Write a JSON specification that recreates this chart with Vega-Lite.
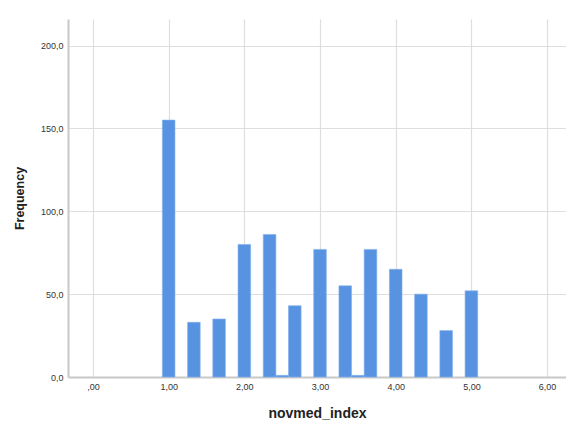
{
  "$schema": "https://vega.github.io/schema/vega-lite/v6.json",
  "width": 498,
  "height": 358,
  "autosize": {"type": "none"},
  "padding": {"left": 68, "top": 19, "right": 0, "bottom": 46},
  "background": "white",
  "config": {
    "view": {"stroke": null},
    "font": "Liberation Sans"
  },
  "data": {
    "values": [
      {"bin_start": 0.9167, "bin_end": 1.0833, "count": 155},
      {"bin_start": 1.25, "bin_end": 1.4167, "count": 33},
      {"bin_start": 1.5833, "bin_end": 1.75, "count": 35},
      {"bin_start": 1.9167, "bin_end": 2.0833, "count": 80},
      {"bin_start": 2.25, "bin_end": 2.4167, "count": 86},
      {"bin_start": 2.4167, "bin_end": 2.5833, "count": 1},
      {"bin_start": 2.5833, "bin_end": 2.75, "count": 43},
      {"bin_start": 2.9167, "bin_end": 3.0833, "count": 77},
      {"bin_start": 3.25, "bin_end": 3.4167, "count": 55},
      {"bin_start": 3.4167, "bin_end": 3.5833, "count": 1},
      {"bin_start": 3.5833, "bin_end": 3.75, "count": 77},
      {"bin_start": 3.9167, "bin_end": 4.0833, "count": 65},
      {"bin_start": 4.25, "bin_end": 4.4167, "count": 50},
      {"bin_start": 4.5833, "bin_end": 4.75, "count": 28},
      {"bin_start": 4.9167, "bin_end": 5.0833, "count": 52}
    ]
  },
  "mark": {"type": "bar", "color": "#5893e2", "stroke": "#7fb0ee", "strokeWidth": 0.6},
  "encoding": {
    "x": {
      "field": "bin_start",
      "type": "quantitative",
      "scale": {"domain": [-0.33, 6.25], "nice": false, "zero": false},
      "axis": {
        "title": "novmed_index",
        "values": [0, 1, 2, 3, 4, 5, 6],
        "labelExpr": "datum.value == 0 ? ',00' : replace(format(datum.value, '.2f'), '.', ',')",
        "labelFontSize": 9,
        "labelColor": "#333333",
        "labelPadding": 5,
        "ticks": false,
        "domainColor": "#c8c8c8",
        "domainWidth": 2,
        "grid": true,
        "gridColor": "#dedede",
        "gridWidth": 1.2,
        "titleFontSize": 14,
        "titleFontWeight": "bold",
        "titleColor": "#222222",
        "titlePadding": 15
      }
    },
    "x2": {"field": "bin_end"},
    "y": {
      "field": "count",
      "type": "quantitative",
      "scale": {"domain": [0, 216], "nice": false},
      "axis": {
        "title": "Frequency",
        "values": [0, 50, 100, 150, 200],
        "labelExpr": "replace(format(datum.value, '.1f'), '.', ',')",
        "labelFontSize": 9,
        "labelColor": "#333333",
        "labelPadding": 5,
        "ticks": false,
        "domainColor": "#c8c8c8",
        "domainWidth": 2,
        "grid": true,
        "gridColor": "#dedede",
        "gridWidth": 1.2,
        "titleFontSize": 12.5,
        "titleFontWeight": "bold",
        "titleColor": "#222222",
        "titlePadding": 14
      }
    },
    "y2": {"datum": 0}
  }
}
